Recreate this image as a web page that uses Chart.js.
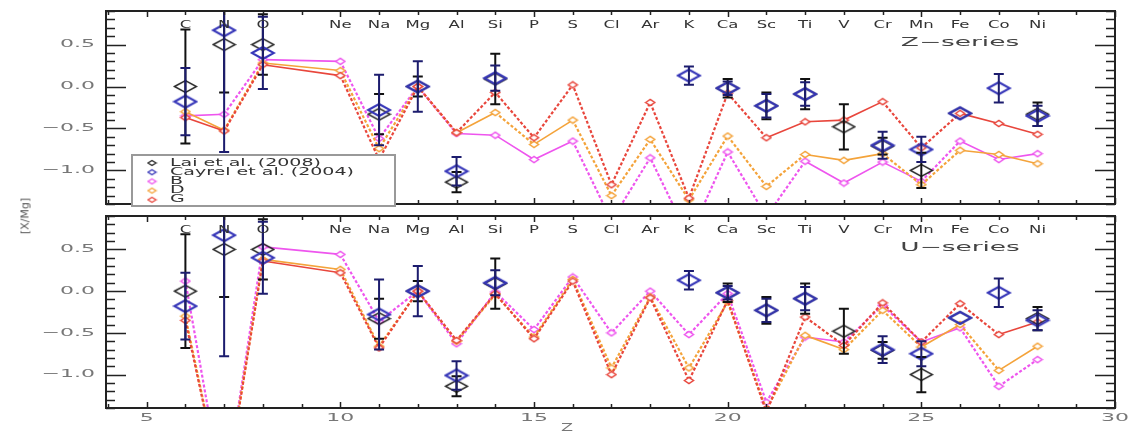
<!DOCTYPE html>
<html>
<head>
<meta charset="utf-8">
<script src="https://cdn.jsdelivr.net/npm/chart.js@4.4.0/dist/chart.umd.min.js"></script>
<style>
  html, body { margin: 0; padding: 0; background: #fff; }
  #wrap { position: relative; width: 1128px; height: 433px; overflow: hidden; }
  canvas { position: absolute; left: 0; }
  #top { top: 0; }
  #bot { top: 209px; }
  #ylab {
    position: absolute; left: 25px; top: 216px;
    transform: translate(-50%, -50%) rotate(-90deg);
    font: 11px "DejaVu Sans", sans-serif; color: #555; white-space: nowrap;
  }
</style>
</head>
<body>
<div id="wrap">
  <canvas id="top" width="1128" height="211"></canvas>
  <canvas id="bot" width="1128" height="224"></canvas>
  <div id="ylab">[X/Mg]</div>
</div>
<script>
// --- data ---
const xTicks = [5, 10, 15, 20, 25, 30];
const yTicks = [-1.0, -0.5, 0.0, 0.5];

// elements plotted (no F), also the model grid
const elemZ = [6, 7, 8, 10, 11, 12, 13, 14, 15, 16, 17, 18, 19, 20, 21, 22, 23, 24, 25, 26, 27, 28];
const elemSym = ['C', 'N', 'O', 'Ne', 'Na', 'Mg', 'Al', 'Si', 'P', 'S', 'Cl', 'Ar', 'K', 'Ca', 'Sc', 'Ti', 'V', 'Cr', 'Mn', 'Fe', 'Co', 'Ni'];

// Z-series yields, [X/Mg]
const zB = [-0.35, -0.33, 0.32, 0.30, -0.62, 0.0, -0.56, -0.58, -0.87, -0.65, -1.60, -0.85, -1.80, -0.78, -1.55, -0.89, -1.15, -0.90, -1.13, -0.65, -0.87, -0.80];
const zD = [-0.30, -0.52, 0.28, 0.19, -0.74, 0.0, -0.55, -0.31, -0.69, -0.40, -1.30, -0.63, -1.35, -0.59, -1.19, -0.81, -0.88, -0.80, -1.17, -0.76, -0.81, -0.92];
const zG = [-0.37, -0.53, 0.26, 0.13, -0.87, 0.0, -0.55, -0.07, -0.61, 0.02, -1.17, -0.19, -1.33, -0.08, -0.61, -0.42, -0.40, -0.18, -0.73, -0.32, -0.44, -0.57];

// U-series yields, [X/Mg]
const uB = [0.12, -2.50, 0.53, 0.44, -0.36, 0.0, -0.63, -0.01, -0.46, 0.17, -0.50, 0.0, -0.52, -0.03, -1.33, -0.55, -0.61, -0.17, -0.61, -0.44, -1.14, -0.82];
const uD = [-0.30, -2.50, 0.38, 0.26, -0.66, 0.0, -0.60, -0.04, -0.55, 0.14, -0.92, -0.07, -0.92, -0.13, -1.42, -0.53, -0.70, -0.23, -0.67, -0.40, -0.95, -0.66];
const uG = [-0.35, -2.50, 0.36, 0.22, -0.68, 0.0, -0.59, -0.03, -0.57, 0.12, -1.00, -0.08, -1.07, -0.11, -1.45, -0.31, -0.65, -0.14, -0.61, -0.15, -0.52, -0.37];

// observed EMP star abundances
const laiZ   = [6, 7, 8, 11, 12, 13, 14, 20, 21, 22, 23, 24, 25, 26, 28];
const laiVal = [0.0, 0.50, 0.50, -0.33, 0.0, -1.14, 0.09, -0.02, -0.23, -0.09, -0.48, -0.71, -1.00, -0.32, -0.33];
const laiErr = [0.68, 0.57, 0.36, 0.24, 0.12, 0.12, 0.30, 0.11, 0.16, 0.18, 0.27, 0.10, 0.21, 0, 0.14];

const cayZ   = [6, 7, 8, 11, 12, 13, 14, 19, 20, 21, 22, 24, 25, 26, 27, 28];
const cayVal = [-0.18, 0.67, 0.40, -0.28, 0.0, -1.01, 0.10, 0.13, -0.02, -0.23, -0.09, -0.70, -0.75, -0.32, -0.02, -0.35];
const cayErr = [0.40, 1.45, 0.43, 0.42, 0.30, 0.17, 0.15, 0.11, 0.08, 0.14, 0.14, 0.16, 0.15, 0, 0.17, 0.12];

const seriesNames = ['Lai et al. (2008)', 'Cayrel et al. (2004)', 'B', 'D', 'G'];
const seriesColors = ['#262626', '#3535b8', '#ee55ee', '#f4a33a', '#e8463c'];
const barColors = ['#111111', '#1c1c6e'];

// --- helpers ---
const pts = (xs, ys) => xs.map((x, i) => ({ x, y: ys[i] }));

function diamond(w, h, stroke, lw, fill) {
  const c = document.createElement('canvas');
  c.width = Math.ceil(w + lw * 2);
  c.height = Math.ceil(h + lw * 2);
  const g = c.getContext('2d');
  const cx = c.width / 2, cy = c.height / 2;
  g.beginPath();
  g.moveTo(cx - w / 2, cy);
  g.lineTo(cx, cy - h / 2);
  g.lineTo(cx + w / 2, cy);
  g.lineTo(cx, cy + h / 2);
  g.closePath();
  if (fill) { g.fillStyle = fill; g.fill(); }
  g.lineWidth = lw;
  g.strokeStyle = stroke;
  g.stroke();
  return c;
}

// the plot fonts are wide and short, so stretch glyphs horizontally
function wideText(ctx, txt, x, y, size, sx, color, align) {
  ctx.save();
  ctx.font = size + 'px "DejaVu Sans", sans-serif';
  ctx.fillStyle = color;
  ctx.textAlign = align || 'center';
  ctx.textBaseline = 'middle';
  ctx.translate(x, y);
  ctx.scale(sx, 1);
  ctx.fillText(txt, 0, 0);
  ctx.restore();
}

const fmtY = v => (v < 0 ? '\u2212' : '') + Math.abs(v).toFixed(1);
const steep = c => Math.abs(c.p1.parsed.y - c.p0.parsed.y) > 0.3;

function buildDatasets(b, d, g) {
  const model = (i, ys, order) => ({
    label: seriesNames[i],
    data: pts(elemZ, ys),
    showLine: true,
    borderColor: seriesColors[i],
    borderWidth: 1.6,
    pointStyle: diamond(9, 6, seriesColors[i], 1.5, '#fff'),
    pointRadius: 4,
    clip: 0,
    order,
    // the big jumps come out as heavy dotted strokes
    segment: {
      borderDash: c => steep(c) ? [3, 2] : undefined,
      borderWidth: c => steep(c) ? 2.2 : undefined
    }
  });
  const obs = (i, xs, ys, errs, order) => ({
    label: seriesNames[i],
    data: pts(xs, ys),
    errs,
    barColor: barColors[i],
    showLine: false,
    pointStyle: diamond(22, 12, seriesColors[i], i === 1 ? 2 : 1.5),
    pointRadius: 6,
    clip: 0,
    order
  });
  return [
    obs(0, laiZ, laiVal, laiErr, 2),
    obs(1, cayZ, cayVal, cayErr, 1),
    model(2, b, 5),
    model(3, d, 4),
    model(4, g, 3)
  ];
}

function drawErrorBars(chart) {
  const { ctx, chartArea: a, scales: { y } } = chart;
  ctx.save();
  ctx.beginPath();
  ctx.rect(a.left, a.top, a.right - a.left, a.bottom - a.top);
  ctx.clip();
  chart.data.datasets.forEach((ds, i) => {
    if (!ds.errs) return;
    const meta = chart.getDatasetMeta(i);
    ctx.strokeStyle = ds.barColor;
    ctx.lineWidth = 2;
    ds.data.forEach((p, j) => {
      const e = ds.errs[j];
      if (!e) return;
      const px = meta.data[j].x;
      const y1 = y.getPixelForValue(p.y + e);
      const y2 = y.getPixelForValue(p.y - e);
      ctx.beginPath();
      ctx.moveTo(px, y1); ctx.lineTo(px, y2);
      ctx.moveTo(px - 5, y1); ctx.lineTo(px + 5, y1);
      ctx.moveTo(px - 5, y2); ctx.lineTo(px + 5, y2);
      ctx.stroke();
    });
  });
  ctx.restore();
}

function drawFrame(chart, opts) {
  const { ctx, chartArea: a, scales: { x, y } } = chart;
  ctx.save();
  ctx.strokeStyle = '#222';
  ctx.lineWidth = 1.5;
  ctx.beginPath();
  // inward ticks, minor every 0.1 dex and 1 in Z
  for (let k = Math.ceil(y.min * 10 - 1e-6); k <= Math.floor(y.max * 10 + 1e-6); k++) {
    const py = Math.round(y.getPixelForValue(k / 10)) + 0.5;
    const len = k % 5 === 0 ? 20 : 9;
    ctx.moveTo(a.left, py); ctx.lineTo(a.left + len, py);
    ctx.moveTo(a.right, py); ctx.lineTo(a.right - len, py);
  }
  for (let k = Math.ceil(x.min); k <= Math.floor(x.max); k++) {
    const px = Math.round(x.getPixelForValue(k)) + 0.5;
    const len = k % 5 === 0 ? 6 : 4;
    ctx.moveTo(px, a.top); ctx.lineTo(px, a.top + len);
    ctx.moveTo(px, a.bottom); ctx.lineTo(px, a.bottom - len);
  }
  ctx.stroke();
  ctx.lineWidth = 2;
  ctx.strokeRect(a.left, a.top, a.right - a.left, a.bottom - a.top);
  ctx.restore();

  yTicks.forEach(v => wideText(ctx, fmtY(v), a.left - 11, y.getPixelForValue(v), 11, 2.0, '#777', 'right'));
  if (opts.xLabels) {
    xTicks.forEach(v => wideText(ctx, String(v), x.getPixelForValue(v), a.bottom + 10, 11, 2.0, '#777'));
    wideText(ctx, 'Z', 567, a.bottom + 20, 11, 1.6, '#777');
  }
  elemZ.forEach((z, i) => wideText(ctx, elemSym[i], x.getPixelForValue(z), a.top + 14, 11, 1.5, '#333'));
  wideText(ctx, opts.tag, 960, a.top + opts.tagDy, 12, 2.2, '#444');
}

function drawLegend(chart) {
  const ctx = chart.ctx;
  const bx = 132, by = 155, bw = 263, bh = 51;
  ctx.save();
  ctx.fillStyle = '#fff';
  ctx.fillRect(bx, by, bw, bh);
  ctx.strokeStyle = '#999';
  ctx.lineWidth = 2;
  ctx.strokeRect(bx, by, bw, bh);
  seriesNames.forEach((name, i) => {
    const ly = by + 8 + i * 9.2;
    const m = diamond(8, 5, seriesColors[i], 1.3);
    ctx.drawImage(m, 152 - m.width / 2, ly - m.height / 2);
    wideText(ctx, name, 170, ly, 10, 1.9, '#333', 'left');
  });
  ctx.restore();
}

const decor = {
  id: 'decor',
  afterDatasetsDraw(chart) { drawErrorBars(chart); },
  afterDraw(chart, args, opts) {
    drawFrame(chart, opts);
    if (opts.legend) drawLegend(chart);
  }
};

function makeChart(id, b, d, g, pad, decorOpts) {
  return new Chart(document.getElementById(id), {
    type: 'scatter',
    data: { datasets: buildDatasets(b, d, g) },
    options: {
      responsive: false,
      animation: false,
      devicePixelRatio: 1,
      layout: { padding: pad },
      scales: {
        x: { type: 'linear', min: 3.95, max: 30, display: false },
        y: { type: 'linear', min: -1.4, max: 0.9, display: false }
      },
      plugins: {
        legend: { display: false },
        tooltip: { enabled: false },
        decor: decorOpts
      }
    },
    plugins: [decor]
  });
}

makeChart('top', zB, zD, zG, { left: 106, right: 13, top: 11, bottom: 2 },
  { tag: 'Z\u2212series', tagDy: 32, legend: true, xLabels: false });
makeChart('bot', uB, uD, uG, { left: 106, right: 13, top: 0, bottom: 25 },
  { tag: 'U\u2212series', tagDy: 32, legend: false, xLabels: true });
</script>
</body>
</html>
